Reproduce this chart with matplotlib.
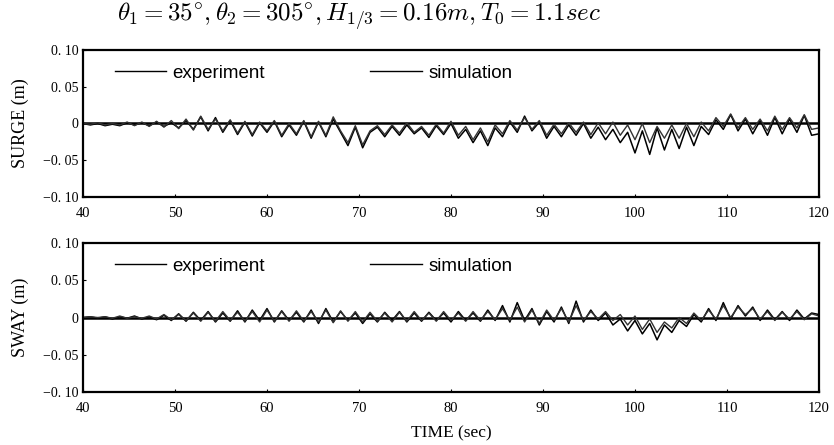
import numpy as np
import matplotlib
matplotlib.use("Agg")
import matplotlib.pyplot as plt

plt.rcParams['mathtext.fontset'] = 'cm'
plt.rcParams['font.family'] = ['Liberation Serif', 'DejaVu Serif']

# time grid of the read values (sec), roughly one value per half wave
t = np.arange(101) * 0.8 + 40.0

# SURGE (m)
surge_exp = [
    0.000, -0.002, 0.000, -0.003, -0.001, -0.003, 0.001, -0.002, 0.001, -0.003,
    0.002, -0.004, 0.001, -0.006, 0.004, -0.008, 0.009, -0.010, 0.008, -0.012,
    0.004, -0.015, 0.002, -0.017, 0.001, -0.012, 0.003, -0.018, -0.002, -0.016,
    0.003, -0.020, 0.002, -0.018, 0.006, -0.012, -0.030, -0.005, -0.033, -0.012,
    -0.005, -0.018, -0.004, -0.016, -0.002, -0.014, -0.006, -0.019, -0.003, -0.015,
    0.000, -0.020, -0.008, -0.026, -0.010, -0.030, -0.006, -0.018, 0.002, -0.012,
    0.010, -0.010, 0.002, -0.020, -0.004, -0.018, -0.002, -0.016, 0.000, -0.020,
    -0.005, -0.022, -0.008, -0.026, -0.012, -0.040, -0.010, -0.042, -0.006, -0.036,
    -0.008, -0.034, -0.005, -0.030, -0.004, -0.015, 0.005, -0.008, 0.012, -0.010,
    0.006, -0.014, 0.004, -0.016, 0.008, -0.014, 0.006, -0.012, 0.011, -0.016, -0.014]
surge_sim = [
    0.000, -0.001, 0.001, -0.002, 0.000, -0.002, 0.002, -0.003, 0.002, -0.004,
    0.003, -0.005, 0.004, -0.007, 0.006, -0.009, 0.010, -0.008, 0.006, -0.010,
    0.005, -0.013, 0.003, -0.015, 0.002, -0.010, 0.004, -0.016, 0.000, -0.014,
    0.004, -0.018, 0.003, -0.016, 0.009, -0.010, -0.026, -0.003, -0.029, -0.010,
    -0.003, -0.015, -0.002, -0.013, 0.001, -0.012, -0.004, -0.016, -0.001, -0.013,
    0.003, -0.016, -0.004, -0.022, -0.006, -0.025, -0.002, -0.014, 0.004, -0.009,
    0.008, -0.008, 0.004, -0.016, -0.001, -0.014, 0.001, -0.012, 0.002, -0.015,
    0.001, -0.014, 0.002, -0.016, -0.002, -0.022, 0.000, -0.026, -0.004, -0.020,
    -0.002, -0.020, 0.000, -0.018, 0.002, -0.010, 0.008, -0.004, 0.013, -0.006,
    0.008, -0.008, 0.006, -0.010, 0.010, -0.008, 0.008, -0.006, 0.012, -0.008, -0.006]

# SWAY (m)
sway_exp = [
    0.000, 0.001, -0.001, 0.001, -0.002, 0.001, -0.001, 0.002, -0.002, 0.001,
    -0.003, 0.003, -0.004, 0.005, -0.005, 0.007, -0.004, 0.008, -0.006, 0.006,
    -0.005, 0.009, -0.006, 0.010, -0.004, 0.012, -0.006, 0.009, -0.004, 0.007,
    -0.006, 0.010, -0.008, 0.012, -0.006, 0.008, -0.004, 0.006, -0.008, 0.005,
    -0.006, 0.007, -0.004, 0.008, -0.006, 0.006, -0.005, 0.007, -0.004, 0.006,
    -0.006, 0.008, -0.004, 0.006, -0.005, 0.010, -0.004, 0.016, -0.006, 0.020,
    -0.004, 0.012, -0.010, 0.008, -0.006, 0.014, -0.008, 0.022, -0.006, 0.010,
    -0.004, 0.006, -0.010, -0.002, -0.018, -0.004, -0.022, -0.008, -0.030, -0.010,
    -0.020, -0.004, -0.012, 0.004, -0.006, 0.012, -0.004, 0.020, -0.002, 0.016,
    0.002, 0.014, -0.004, 0.010, -0.003, 0.008, -0.004, 0.010, -0.002, 0.006, 0.004]
sway_sim = [
    0.000, 0.001, 0.000, 0.001, -0.001, 0.002, -0.001, 0.001, -0.001, 0.002,
    -0.002, 0.004, -0.003, 0.004, -0.004, 0.006, -0.005, 0.007, -0.005, 0.008,
    -0.004, 0.007, -0.005, 0.008, -0.006, 0.010, -0.005, 0.008, -0.005, 0.009,
    -0.005, 0.008, -0.006, 0.010, -0.007, 0.009, -0.005, 0.008, -0.006, 0.007,
    -0.005, 0.006, -0.006, 0.007, -0.005, 0.008, -0.004, 0.006, -0.005, 0.008,
    -0.004, 0.006, -0.005, 0.008, -0.004, 0.008, -0.003, 0.012, -0.004, 0.014,
    -0.006, 0.010, -0.008, 0.010, -0.004, 0.012, -0.006, 0.016, -0.004, 0.008,
    -0.002, 0.008, -0.004, 0.004, -0.010, 0.002, -0.016, -0.002, -0.020, -0.006,
    -0.014, 0.000, -0.008, 0.006, -0.004, 0.010, -0.002, 0.016, 0.000, 0.014,
    0.004, 0.012, -0.002, 0.008, -0.004, 0.007, -0.002, 0.008, -0.003, 0.005, 0.002]

xticks = [40, 50, 60, 70, 80, 90, 100, 110, 120]
yticks = [0.10, 0.05, 0.0, -0.05, -0.10]
ytick_labels = ['0. 10', '0. 05', '0', '\u22120. 05', '\u22120. 10']

fig = plt.figure(figsize=(8.34, 4.45), dpi=100)
ax1 = fig.add_axes([0.0995, 0.557, 0.8825, 0.331])
ax2 = fig.add_axes([0.0995, 0.119, 0.8825, 0.335])

panels = [(ax1, surge_exp, surge_sim, 'SURGE (m)'),
          (ax2, sway_exp, sway_sim, 'SWAY (m)')]
for ax, exp, sim, name in panels:
    ax.axhline(0, color='black', lw=1.8, zorder=1)
    ax.plot(t, exp, color='black', lw=1.1, label='experiment')
    ax.plot(t, sim, color='#333333', lw=1.0, label='simulation')
    ax.set_xlim(40, 120)
    ax.set_ylim(-0.10, 0.10)
    ax.set_xticks(xticks)
    ax.set_xticklabels([str(v) for v in xticks], fontsize=10.5)
    ax.set_yticks(yticks)
    ax.set_yticklabels(ytick_labels, fontsize=10)
    ax.tick_params(direction='in', length=2, width=0.8)
    ax.tick_params(axis='x', pad=7)
    ax.tick_params(axis='y', pad=3)
    ax.set_ylabel(name, fontsize=13, labelpad=10)
    for sp in ax.spines.values():
        sp.set_linewidth(1.6)
    leg = ax.legend(loc='upper left', bbox_to_anchor=(0.02, 1.015), ncol=2,
                    frameon=False, handlelength=2.75, handletextpad=0.35,
                    columnspacing=5.6,
                    prop={'family': 'Liberation Sans', 'size': 13.5})
    for ln in leg.get_lines():
        ln.set_color('black')
        ln.set_linewidth(1.0)

ax2.set_xlabel('TIME (sec)', fontsize=12.5, labelpad=8)

fig.text(0.43, 0.962,
         r'$\theta_1 = 35^{\circ}, \theta_2 = 305^{\circ}, H_{1/3} = 0.16m, T_0 = 1.1sec$',
         fontsize=18, ha='center', va='center')

fig.savefig('out.png', dpi=100)
